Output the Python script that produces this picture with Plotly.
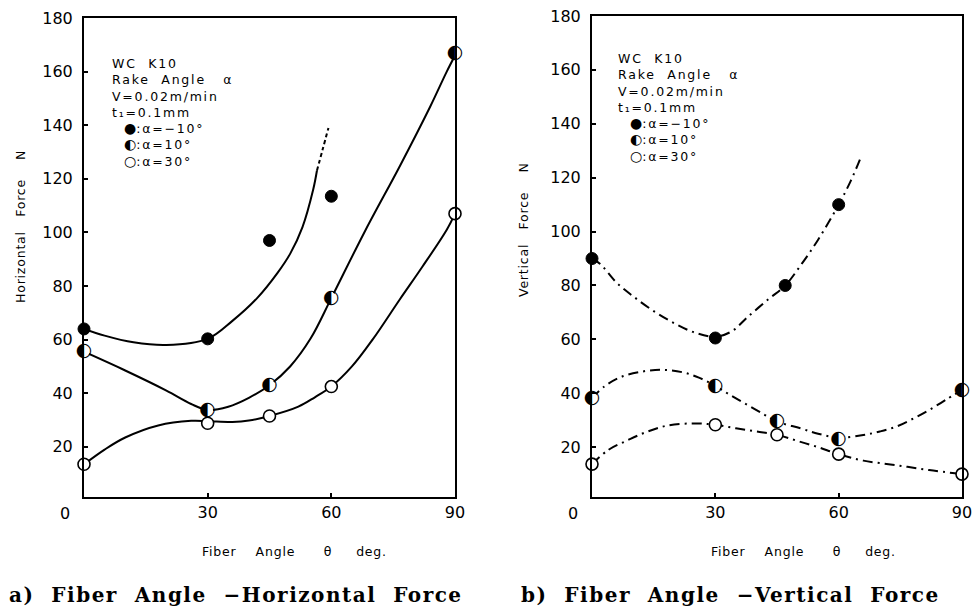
import plotly.graph_objects as go

# ---------------- data ----------------
tick_x = [30, 60, 90]
tick_y = [20, 40, 60, 80, 100, 120, 140, 160, 180]

# a) Horizontal force
h_ang_m10 = [0, 30, 45, 60]
h_m10 = [64, 60.3, 97, 113.5]
h_ang = [0, 30, 45, 60, 90]
h_10 = [55.5, 33.5, 43, 75.5, 167]
h_30 = [13.5, 28.8, 31.5, 42.5, 107]

# hand-drawn fitted curves (a)
fit_h_m10_x = [0, 5, 12, 20, 30, 36, 42, 47, 50, 53, 55.6, 56.5]
fit_h_m10_y = [64, 61.5, 59, 58, 60.3, 67, 75.5, 85, 92, 102, 116, 123]
fit_h_m10_dash_x = [56.5, 57.9, 59.3]
fit_h_m10_dash_y = [123, 131, 139]
fit_h_10_x = [0, 10, 20, 26, 30, 35, 40, 45, 50, 55, 60, 68, 76.7, 84, 88, 90]
fit_h_10_y = [55.5, 48.5, 41, 36, 33.8, 35, 38.3, 43, 50, 60.5, 75.5, 100, 125, 147, 160, 166]
fit_h_30_x = [0, 5, 10, 18, 26, 30, 36, 40, 45, 52, 56, 60, 65, 70, 76.6, 82, 88, 90]
fit_h_30_y = [13.5, 19, 23.5, 28, 29.7, 29.6, 29.3, 29.8, 31.5, 35, 38.5, 42.5, 50, 60, 75, 87, 101, 107]

# b) Vertical force
v_ang_m10 = [0, 30, 47, 60]
v_m10 = [90, 60.5, 80, 110]
v_ang = [0, 30, 45, 60, 90]
v_10 = [38.2, 42.7, 29.5, 23, 41.3]
v_30 = [13.7, 28.3, 24.6, 17.4, 10]

# hand-drawn fitted curves (b)
fit_v_m10_x = [0, 2, 6, 10, 15, 20, 25, 30, 34, 38, 43, 47, 51, 55, 60, 63, 65.5]
fit_v_m10_y = [90, 88, 81, 76, 70.5, 66, 62.5, 61, 63, 68.5, 75, 80, 88, 97, 110, 119, 128]
fit_v_10_x = [0, 3, 7, 12, 17, 22, 26, 30, 34, 38, 42, 45, 50.7, 55, 60, 66, 70, 74, 78, 82, 86, 90]
fit_v_10_y = [38.2, 42.5, 46, 48, 48.7, 47.8, 45.8, 42.7, 39, 35.5, 32, 29.5, 27, 25, 23.5, 24.5, 25.8, 27.6, 30.5, 33.8, 37.5, 41.3]
fit_v_30_x = [0, 4, 8.6, 13, 18.3, 25, 30, 35, 40, 45, 50, 55, 60, 66, 74, 82, 90]
fit_v_30_y = [13.7, 19, 22.5, 25.5, 28, 28.8, 28.3, 27, 25.8, 24.6, 22.3, 20, 17.4, 15, 13.3, 11.5, 10]

legend_text = ["WC  K10", "Rake  Angle   α", "V=0.02m/min", "t₁=0.1mm"]
legend_syms = ["●", "◐", "○"]
legend_labels = [":α=−10°", ":α=10°", ":α=30°"]

x_title = ["Fiber", "Angle", "θ", "deg."]
y_titles = [["Horizontal", "Force", "N"], ["Vertical", "Force", "N"]]
captions = [["a)", "Fiber", "Angle", "−Horizontal", "Force"],
            ["b)", "Fiber", "Angle", "−Vertical", "Force"]]

# ---------------- figure ----------------
W, H = 980, 610
NB = "\u00a0"
fig = go.Figure()

BLACK = "black"
MS = 12


def add_panel(xa, ya, curves, pts):
    for cx, cy, d in curves:
        fig.add_trace(go.Scatter(x=cx, y=cy, xaxis=xa, yaxis=ya, mode="lines",
                                 line=dict(color=BLACK, width=2, shape="spline", smoothing=1.0, dash=d),
                                 hoverinfo="skip", showlegend=False, cliponaxis=False))
    (xf, yf), (xh, yh), (xo, yo) = pts
    fig.add_trace(go.Scatter(x=xf, y=yf, xaxis=xa, yaxis=ya, mode="markers",
                             marker=dict(symbol="circle", size=MS, color=BLACK, line=dict(color=BLACK, width=1)),
                             showlegend=False, cliponaxis=False, name="α=−10°"))
    fig.add_trace(go.Scatter(x=xh, y=yh, xaxis=xa, yaxis=ya, mode="markers",
                             marker=dict(symbol="circle", size=MS - 1, color="white", line=dict(color="white", width=0)),
                             showlegend=False, cliponaxis=False, name="α=10°"))
    fig.add_trace(go.Scatter(x=xh, y=yh, xaxis=xa, yaxis=ya, mode="text",
                             text=["◐"] * len(xh), textposition="middle center",
                             textfont=dict(family="DejaVu Sans", size=19, color=BLACK),
                             showlegend=False, cliponaxis=False, hoverinfo="skip"))
    fig.add_trace(go.Scatter(x=xo, y=yo, xaxis=xa, yaxis=ya, mode="markers",
                             marker=dict(symbol="circle", size=MS, color="white", line=dict(color=BLACK, width=1.6)),
                             showlegend=False, cliponaxis=False, name="α=30°"))


add_panel("x", "y",
          [(fit_h_m10_x, fit_h_m10_y, "solid"), (fit_h_m10_dash_x, fit_h_m10_dash_y, "4px,3px"),
           (fit_h_10_x, fit_h_10_y, "solid"), (fit_h_30_x, fit_h_30_y, "solid")],
          [(h_ang_m10, h_m10), (h_ang, h_10), (h_ang, h_30)])

DD = "10px,5px,2px,5px"
add_panel("x2", "y2",
          [(fit_v_m10_x, fit_v_m10_y, DD), (fit_v_10_x, fit_v_10_y, DD), (fit_v_30_x, fit_v_30_y, DD)],
          [(v_ang_m10, v_m10), (v_ang, v_10), (v_ang, v_30)])

TICKFONT = dict(family="DejaVu Sans", size=16, color=BLACK)
ax_common = dict(showline=True, linecolor=BLACK, linewidth=2, mirror=True, ticks="inside",
                 ticklen=4, tickwidth=1.5, tickcolor=BLACK, showgrid=False, zeroline=False,
                 tickfont=TICKFONT, automargin=False)


def xd(a, b):
    return [a / W, b / W]


def yd(top, bottom):
    return [(H - bottom) / H, (H - top) / H]


fig.update_layout(
    width=W, height=H, margin=dict(l=0, r=0, t=0, b=0),
    paper_bgcolor="white", plot_bgcolor="white", showlegend=False,
    xaxis=dict(domain=xd(84, 455), range=[0, 90], tickvals=tick_x, ticklabelstandoff=0, anchor="y", **ax_common),
    yaxis=dict(domain=yd(18, 497), range=[1.3, 180], tickvals=tick_y, ticklabelstandoff=6, anchor="x", **ax_common),
    xaxis2=dict(domain=xd(592, 962), range=[0, 90], tickvals=tick_x, ticklabelstandoff=0, anchor="y2", **ax_common),
    yaxis2=dict(domain=yd(16, 497), range=[1.5, 180], tickvals=tick_y, ticklabelstandoff=6, anchor="x2", **ax_common),
)


def spaced(s, px):
    return f'<span style="letter-spacing:{px}px">{s}</span>'


ann = []
# origin "0" labels
for xr in ("x", "x2"):
    ann.append(dict(x=0, y=(H - 513) / H, xref=xr, yref="paper", yanchor="middle", xanchor="center",
                    text="0", showarrow=False, font=TICKFONT, xshift=-19))
# x axis titles
TF = dict(family="DejaVu Sans", size=12.5, color=BLACK)
xt = x_title[0] + NB * 4 + x_title[1] + NB * 6 + x_title[2] + NB * 5 + x_title[3]
for cx in (294, 803):
    ann.append(dict(x=cx / W, y=(H - 551) / H, xref="paper", yref="paper", text=spaced(xt, 0.8),
                    showarrow=False, font=TF, xanchor="center", yanchor="middle"))
# y axis titles
for cx, cy, parts in ((20, 227, y_titles[0]), (524, 230, y_titles[1])):
    t = parts[0] + NB * 3 + parts[1] + NB * 4 + parts[2]
    ann.append(dict(x=cx / W, y=(H - cy) / H, xref="paper", yref="paper", text=spaced(t, 0.8),
                    showarrow=False, font=TF, textangle=-90, xanchor="center", yanchor="middle"))
# captions
CF = dict(family="DejaVu Serif", size=20, color=BLACK, weight="bold")
for x0, p in ((7, captions[0]), (519, captions[1])):
    t = p[0] + NB * 2 + p[1] + NB * 2 + p[2] + NB * 2 + p[3] + NB * 2 + p[4]
    ann.append(dict(x=x0 / W, y=(H - 595) / H, xref="paper", yref="paper", text=spaced(t, 1.5),
                    showarrow=False, font=CF, xanchor="left", yanchor="middle"))
# legend boxes (one multi-line text each)
LF = dict(family="DejaVu Sans", size=12.5, color=BLACK)
lines = [spaced(t.replace(" ", NB), 1.8) for t in legend_text]
lines += [NB * 3 + f'<span style="font-size:14px">{s}</span>' + spaced(lab, 1.8)
          for s, lab in zip(legend_syms, legend_labels)]
legend_html = "<br>".join(lines)
for x0, ytop in ((110, 54), (616, 49)):
    ann.append(dict(x=x0 / W, y=(H - ytop) / H, xref="paper", yref="paper", text=legend_html,
                    showarrow=False, font=LF, xanchor="left", yanchor="top", align="left"))
fig.update_layout(annotations=ann)

fig.write_html("out.html", config={"displayModeBar": False},
               post_script="document.body.style.margin='0px';document.body.style.padding='0px';")
